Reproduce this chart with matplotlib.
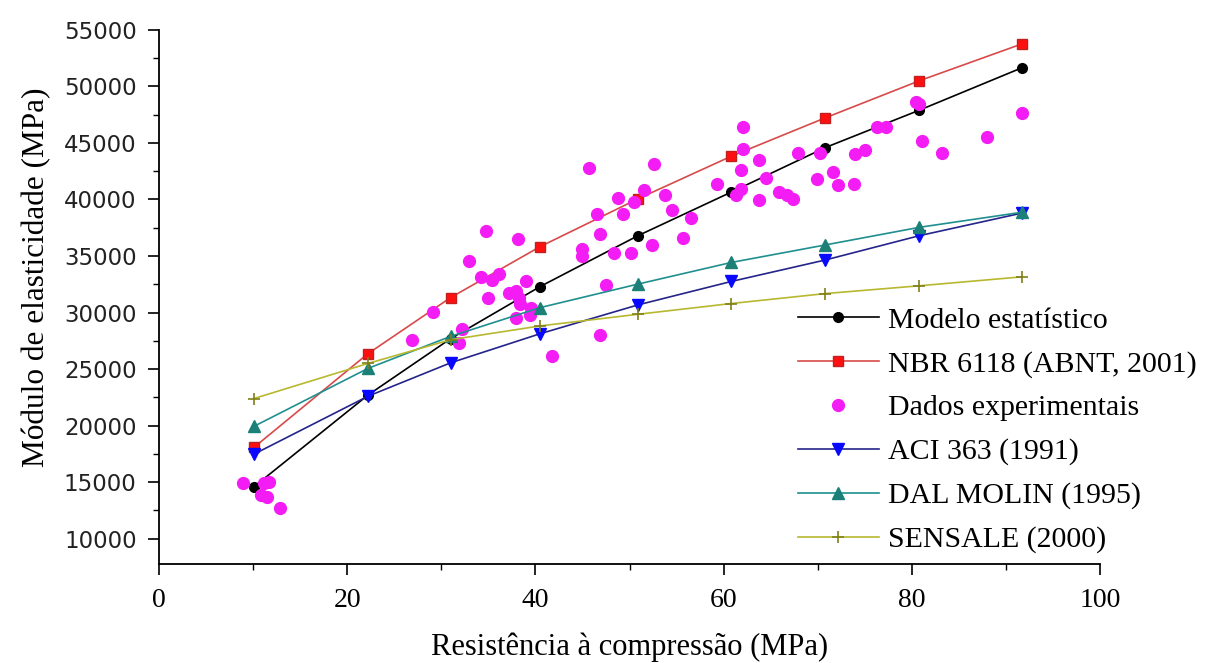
import matplotlib
matplotlib.use("Agg")
import matplotlib.pyplot as plt
from matplotlib.ticker import MultipleLocator

# compressive strength levels used by the models (MPa)
fc = [10.1, 22.2, 31.0, 40.5, 50.9, 60.8, 70.8, 80.8, 91.7]

modelo = [14600, 22700, 27700, 32300, 36800, 40650, 44590, 47900, 51650]
nbr6118 = [18080, 26360, 31330, 35830, 40060, 43820, 47220, 50500, 53760]
aci363 = [17480, 22600, 25560, 28130, 30680, 32750, 34650, 36800, 38800]
dal_molin = [19940, 25060, 27900, 30440, 32520, 34430, 35980, 37540, 38870]
sensale = [22400, 25500, 27600, 28820, 29850, 30800, 31680, 32370, 33160]

# experimental results
exp_fc = [8.9, 11.2, 11.7, 10.8, 11.5, 12.9, 26.9, 29.1, 32.2, 31.9,
          32.9, 34.7, 38.2, 34.2, 35.4, 36.1, 35.0, 39.0, 37.2, 37.9,
          38.3, 38.4, 39.5, 39.4, 37.9, 41.8, 45.7, 52.6, 48.8, 51.5,
          50.5, 53.8, 46.5, 49.3, 54.5, 56.5, 59.3, 46.9, 45.0, 44.9,
          48.4, 50.2, 52.4, 55.7, 47.5, 46.9, 62.1, 62.1, 63.8, 61.8,
          64.5, 61.8, 61.3, 63.8, 65.9, 66.7, 67.4, 67.9, 70.2, 69.9,
          71.6, 72.1, 73.8, 73.9, 75.0, 76.3, 77.2, 80.4, 80.7, 81.1,
          83.2, 88.0, 91.7]
exp_E = [14970, 14910, 15060, 13880, 13730, 12750, 27590, 30040, 28520, 27290,
         34590, 37190, 36490, 33140, 32900, 33430, 31300, 32810, 31770, 31920,
         31260, 30770, 30370, 29750, 29530, 26150, 42770, 43130, 40150, 40860,
         39760, 40360, 38760, 38760, 39090, 38400, 41380, 36980, 35620, 34990,
         35280, 35230, 36010, 36630, 32460, 28020, 46420, 44500, 43460, 42570,
         41890, 40950, 40440, 39970, 40650, 40360, 40060, 44110, 44110, 41840,
         42420, 41240, 41390, 43990, 44410, 46420, 46420, 48640, 48430, 45170,
         44150, 45530, 47660]

serif = "Liberation Serif"

fig = plt.figure(figsize=(12.13, 6.63), dpi=100)
ax = fig.add_axes([0.131, 0.149, 0.776, 0.806])

ax.plot(fc, modelo, color="black", lw=1.2, marker="o", ms=7,
        label="Modelo estatístico")
ax.plot(fc, nbr6118, color="#d84a4a", lw=1.2, marker="s", ms=7,
        mfc="#ff1010", mec="#c02020", label="NBR 6118 (ABNT, 2001)")
ax.plot(exp_fc, exp_E, ls="none", marker="o", ms=8.5, color="#f41cf4",
        label="Dados experimentais")
ax.plot(fc, aci363, color="#24248a", lw=1.2, marker="v", ms=9,
        mfc="#0808ff", mec="#0808ff", label="ACI 363 (1991)")
ax.plot(fc, dal_molin, color="#1f8f8f", lw=1.2, marker="^", ms=9,
        mfc="#1a8078", mec="#1a8078", label="DAL MOLIN (1995)")
ax.plot(fc, sensale, color="#b8b830", lw=1.2, marker="+", ms=9, mew=1.2,
        mec="#80801a", label="SENSALE (2000)")

ax.set_xlim(0, 100)
ax.set_ylim(7750, 55000)
ax.xaxis.set_major_locator(MultipleLocator(20))
ax.xaxis.set_minor_locator(MultipleLocator(10))
ax.yaxis.set_major_locator(MultipleLocator(5000))
ax.yaxis.set_minor_locator(MultipleLocator(2500))
ax.set_yticks(range(10000, 55001, 5000))

for side in ("top", "right"):
    ax.spines[side].set_visible(False)
for side in ("left", "bottom"):
    ax.spines[side].set_linewidth(1.3)

ax.tick_params(which="major", direction="out", length=8, width=1.2)
ax.tick_params(which="minor", direction="out", length=4, width=1.0)
ax.tick_params(axis="y", which="major", pad=8, labelsize=16.5, labelcolor="#222222")
ax.tick_params(axis="x", which="major", pad=9, labelsize=20)
for lab in ax.get_xticklabels():
    lab.set_fontfamily(serif)
for lab in ax.get_yticklabels():
    lab.set_fontfamily("DejaVu Sans")

ax.set_xlabel("Resistência à compressão (MPa)", fontsize=22, family=serif)
ax.set_ylabel("Módulo de elasticidade (MPa)", fontsize=22.5, family=serif)
ax.xaxis.set_label_coords(0.5, -0.127)
ax.yaxis.set_label_coords(-0.114, 0.537)

ax.legend(loc="upper left", bbox_to_anchor=(798 / 1213, 1 - 307 / 663),
          bbox_transform=fig.transFigure, frameon=False, borderpad=0,
          borderaxespad=0, handlelength=2.7, handletextpad=0.3,
          labelspacing=0.56, prop={"family": serif, "size": 21.5})

fig.savefig("out.png", dpi=100)
